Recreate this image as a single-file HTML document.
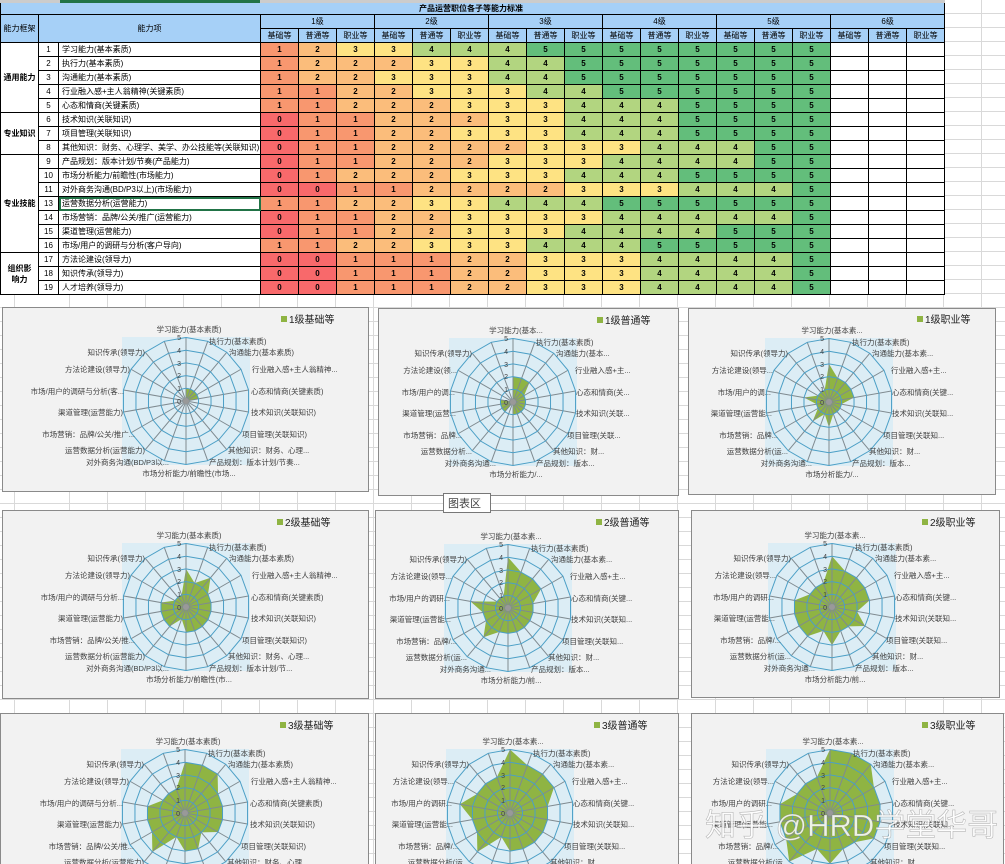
<!DOCTYPE html>
<html><head><meta charset="utf-8"><style>
body{margin:0;width:1005px;height:864px;overflow:hidden;position:relative;background:#fff;
font-family:"Liberation Sans","Noto Sans CJK SC",sans-serif;}
.bg{position:absolute;left:0;top:0;width:1005px;height:864px;
background-image:repeating-linear-gradient(to bottom,transparent 0,transparent 13px,#d9d9d9 13px,#d9d9d9 14px),repeating-linear-gradient(to right,transparent 0,transparent 37px,#d9d9d9 37px,#d9d9d9 38px);
background-position:0 0,32px 0;}
table{position:absolute;left:0;top:0;border-collapse:collapse;table-layout:fixed;width:943px;font-size:8px;}
td{border:1px solid #000;height:14px;padding:0;text-align:center;overflow:hidden;white-space:nowrap;line-height:12px;box-sizing:border-box;}
td.l{text-align:left;padding-left:3px;background:#fff}
td.n{background:#fff}
td.g{background:#fff;font-weight:bold;white-space:normal;line-height:11px}
.h td{background:#a6d0f7;}
.v0{background:#f8696b}.v1{background:#f8976f}.v2{background:#fbbd7b}.v3{background:#fee383}.v4{background:#b2d580}.v5{background:#63be7b}
tr.d td.v0,tr.d td.v1,tr.d td.v2,tr.d td.v3,tr.d td.v4,tr.d td.v5{font-weight:bold}
td.e{background:#fff}
svg{position:absolute;left:0;top:0}
svg text{font-family:"Liberation Sans","Noto Sans CJK SC",sans-serif;font-size:7.5px;fill:#404040}
text.e{text-anchor:end} text.m{text-anchor:middle}
text.t{font-size:7px;fill:#404040;text-anchor:end}
text.lg{font-size:10px;fill:#222}
.d{fill:#8fb443}
</style></head><body>
<div class="bg"></div>
<table>
<colgroup><col style="width:38px"><col style="width:20px"><col style="width:202px">
<col span="18" style="width:38px"></colgroup>
<tr class="h"><td colspan="21" style="height:13px;border-top:3px solid #ccc;font-weight:bold;text-align:left;padding-left:418px;line-height:9px">产品运营职位各子等能力标准</td></tr>
<tr class="h"><td rowspan="2">能力框架</td><td colspan="2" rowspan="2">能力项</td><td colspan="3">1级</td><td colspan="3">2级</td><td colspan="3">3级</td><td colspan="3">4级</td><td colspan="3">5级</td><td colspan="3">6级</td></tr>
<tr class="h"><td>基础等</td><td>普通等</td><td>职业等</td><td>基础等</td><td>普通等</td><td>职业等</td><td>基础等</td><td>普通等</td><td>职业等</td><td>基础等</td><td>普通等</td><td>职业等</td><td>基础等</td><td>普通等</td><td>职业等</td><td>基础等</td><td>普通等</td><td>职业等</td></tr>
<tr class="d"><td rowspan="5" class="g">通用能力</td><td class="n">1</td><td class="l">学习能力(基本素质)</td><td class="v1">1</td><td class="v2">2</td><td class="v3">3</td><td class="v3">3</td><td class="v4">4</td><td class="v4">4</td><td class="v4">4</td><td class="v5">5</td><td class="v5">5</td><td class="v5">5</td><td class="v5">5</td><td class="v5">5</td><td class="v5">5</td><td class="v5">5</td><td class="v5">5</td><td class="e"></td><td class="e"></td><td class="e"></td></tr>
<tr class="d"><td class="n">2</td><td class="l">执行力(基本素质)</td><td class="v1">1</td><td class="v2">2</td><td class="v2">2</td><td class="v2">2</td><td class="v3">3</td><td class="v3">3</td><td class="v4">4</td><td class="v4">4</td><td class="v5">5</td><td class="v5">5</td><td class="v5">5</td><td class="v5">5</td><td class="v5">5</td><td class="v5">5</td><td class="v5">5</td><td class="e"></td><td class="e"></td><td class="e"></td></tr>
<tr class="d"><td class="n">3</td><td class="l">沟通能力(基本素质)</td><td class="v1">1</td><td class="v2">2</td><td class="v2">2</td><td class="v3">3</td><td class="v3">3</td><td class="v3">3</td><td class="v4">4</td><td class="v4">4</td><td class="v5">5</td><td class="v5">5</td><td class="v5">5</td><td class="v5">5</td><td class="v5">5</td><td class="v5">5</td><td class="v5">5</td><td class="e"></td><td class="e"></td><td class="e"></td></tr>
<tr class="d"><td class="n">4</td><td class="l">行业融入感+主人翁精神(关键素质)</td><td class="v1">1</td><td class="v1">1</td><td class="v2">2</td><td class="v2">2</td><td class="v3">3</td><td class="v3">3</td><td class="v3">3</td><td class="v4">4</td><td class="v4">4</td><td class="v5">5</td><td class="v5">5</td><td class="v5">5</td><td class="v5">5</td><td class="v5">5</td><td class="v5">5</td><td class="e"></td><td class="e"></td><td class="e"></td></tr>
<tr class="d"><td class="n">5</td><td class="l">心态和情商(关键素质)</td><td class="v1">1</td><td class="v1">1</td><td class="v2">2</td><td class="v2">2</td><td class="v2">2</td><td class="v3">3</td><td class="v3">3</td><td class="v3">3</td><td class="v4">4</td><td class="v4">4</td><td class="v4">4</td><td class="v5">5</td><td class="v5">5</td><td class="v5">5</td><td class="v5">5</td><td class="e"></td><td class="e"></td><td class="e"></td></tr>
<tr class="d"><td rowspan="3" class="g">专业知识</td><td class="n">6</td><td class="l">技术知识(关联知识)</td><td class="v0">0</td><td class="v1">1</td><td class="v1">1</td><td class="v2">2</td><td class="v2">2</td><td class="v2">2</td><td class="v3">3</td><td class="v3">3</td><td class="v4">4</td><td class="v4">4</td><td class="v4">4</td><td class="v5">5</td><td class="v5">5</td><td class="v5">5</td><td class="v5">5</td><td class="e"></td><td class="e"></td><td class="e"></td></tr>
<tr class="d"><td class="n">7</td><td class="l">项目管理(关联知识)</td><td class="v0">0</td><td class="v1">1</td><td class="v1">1</td><td class="v2">2</td><td class="v2">2</td><td class="v3">3</td><td class="v3">3</td><td class="v3">3</td><td class="v4">4</td><td class="v4">4</td><td class="v4">4</td><td class="v5">5</td><td class="v5">5</td><td class="v5">5</td><td class="v5">5</td><td class="e"></td><td class="e"></td><td class="e"></td></tr>
<tr class="d"><td class="n">8</td><td class="l">其他知识：财务、心理学、美学、办公技能等(关联知识)</td><td class="v0">0</td><td class="v1">1</td><td class="v1">1</td><td class="v2">2</td><td class="v2">2</td><td class="v2">2</td><td class="v2">2</td><td class="v3">3</td><td class="v3">3</td><td class="v3">3</td><td class="v4">4</td><td class="v4">4</td><td class="v4">4</td><td class="v5">5</td><td class="v5">5</td><td class="e"></td><td class="e"></td><td class="e"></td></tr>
<tr class="d"><td rowspan="7" class="g">专业技能</td><td class="n">9</td><td class="l">产品规划：版本计划/节奏(产品能力)</td><td class="v0">0</td><td class="v1">1</td><td class="v1">1</td><td class="v2">2</td><td class="v2">2</td><td class="v2">2</td><td class="v3">3</td><td class="v3">3</td><td class="v3">3</td><td class="v4">4</td><td class="v4">4</td><td class="v4">4</td><td class="v4">4</td><td class="v5">5</td><td class="v5">5</td><td class="e"></td><td class="e"></td><td class="e"></td></tr>
<tr class="d"><td class="n">10</td><td class="l">市场分析能力/前瞻性(市场能力)</td><td class="v0">0</td><td class="v1">1</td><td class="v2">2</td><td class="v2">2</td><td class="v2">2</td><td class="v3">3</td><td class="v3">3</td><td class="v3">3</td><td class="v4">4</td><td class="v4">4</td><td class="v4">4</td><td class="v5">5</td><td class="v5">5</td><td class="v5">5</td><td class="v5">5</td><td class="e"></td><td class="e"></td><td class="e"></td></tr>
<tr class="d"><td class="n">11</td><td class="l">对外商务沟通(BD/P3以上)(市场能力)</td><td class="v0">0</td><td class="v0">0</td><td class="v1">1</td><td class="v1">1</td><td class="v2">2</td><td class="v2">2</td><td class="v2">2</td><td class="v2">2</td><td class="v3">3</td><td class="v3">3</td><td class="v3">3</td><td class="v4">4</td><td class="v4">4</td><td class="v4">4</td><td class="v5">5</td><td class="e"></td><td class="e"></td><td class="e"></td></tr>
<tr class="d"><td class="n">13</td><td class="l" style="outline:2px solid #217346;outline-offset:-2px">运营数据分析(运营能力)</td><td class="v1">1</td><td class="v1">1</td><td class="v2">2</td><td class="v2">2</td><td class="v3">3</td><td class="v3">3</td><td class="v4">4</td><td class="v4">4</td><td class="v4">4</td><td class="v5">5</td><td class="v5">5</td><td class="v5">5</td><td class="v5">5</td><td class="v5">5</td><td class="v5">5</td><td class="e"></td><td class="e"></td><td class="e"></td></tr>
<tr class="d"><td class="n">14</td><td class="l">市场营销：品牌/公关/推广(运营能力)</td><td class="v0">0</td><td class="v1">1</td><td class="v1">1</td><td class="v2">2</td><td class="v2">2</td><td class="v3">3</td><td class="v3">3</td><td class="v3">3</td><td class="v3">3</td><td class="v4">4</td><td class="v4">4</td><td class="v4">4</td><td class="v4">4</td><td class="v4">4</td><td class="v5">5</td><td class="e"></td><td class="e"></td><td class="e"></td></tr>
<tr class="d"><td class="n">15</td><td class="l">渠道管理(运营能力)</td><td class="v0">0</td><td class="v1">1</td><td class="v1">1</td><td class="v2">2</td><td class="v2">2</td><td class="v3">3</td><td class="v3">3</td><td class="v3">3</td><td class="v4">4</td><td class="v4">4</td><td class="v4">4</td><td class="v4">4</td><td class="v5">5</td><td class="v5">5</td><td class="v5">5</td><td class="e"></td><td class="e"></td><td class="e"></td></tr>
<tr class="d"><td class="n">16</td><td class="l">市场/用户的调研与分析(客户导向)</td><td class="v1">1</td><td class="v1">1</td><td class="v2">2</td><td class="v2">2</td><td class="v3">3</td><td class="v3">3</td><td class="v3">3</td><td class="v4">4</td><td class="v4">4</td><td class="v4">4</td><td class="v5">5</td><td class="v5">5</td><td class="v5">5</td><td class="v5">5</td><td class="v5">5</td><td class="e"></td><td class="e"></td><td class="e"></td></tr>
<tr class="d"><td rowspan="3" class="g">组织影<br>响力</td><td class="n">17</td><td class="l">方法论建设(领导力)</td><td class="v0">0</td><td class="v0">0</td><td class="v1">1</td><td class="v1">1</td><td class="v1">1</td><td class="v2">2</td><td class="v2">2</td><td class="v3">3</td><td class="v3">3</td><td class="v3">3</td><td class="v4">4</td><td class="v4">4</td><td class="v4">4</td><td class="v4">4</td><td class="v5">5</td><td class="e"></td><td class="e"></td><td class="e"></td></tr>
<tr class="d"><td class="n">18</td><td class="l">知识传承(领导力)</td><td class="v0">0</td><td class="v0">0</td><td class="v1">1</td><td class="v1">1</td><td class="v1">1</td><td class="v2">2</td><td class="v2">2</td><td class="v3">3</td><td class="v3">3</td><td class="v3">3</td><td class="v4">4</td><td class="v4">4</td><td class="v4">4</td><td class="v4">4</td><td class="v5">5</td><td class="e"></td><td class="e"></td><td class="e"></td></tr>
<tr class="d"><td class="n">19</td><td class="l">人才培养(领导力)</td><td class="v0">0</td><td class="v0">0</td><td class="v1">1</td><td class="v1">1</td><td class="v1">1</td><td class="v2">2</td><td class="v2">2</td><td class="v3">3</td><td class="v3">3</td><td class="v3">3</td><td class="v4">4</td><td class="v4">4</td><td class="v4">4</td><td class="v4">4</td><td class="v5">5</td><td class="e"></td><td class="e"></td><td class="e"></td></tr>
</table>
<div style="position:absolute;left:60px;top:0;width:200px;height:3px;background:#217346"></div>

<svg width="1005" height="864" viewBox="0 0 1005 864">
<defs>
<polygon id="ring" points="0,-1 .342,-.94 .643,-.766 .866,-.5 .985,-.174 .985,.174 .866,.5 .643,.766 .342,.94 0,1 -.342,.94 -.643,.766 -.866,.5 -.985,.174 -.985,-.174 -.866,-.5 -.643,-.766 -.342,-.94" fill="none" stroke="#4b9fc6" stroke-width="1" vector-effect="non-scaling-stroke"/>
<g id="bgw"><rect x="-64" y="-64" width="128" height="128" fill="#dcedf5"/></g>
<g id="grid"><g transform="scale(12.7)">
<path d="M0 0L0 -5M0 0L1.71 -4.7M0 0L3.21 -3.83M0 0L4.33 -2.5M0 0L4.92 -.87M0 0L4.92 .87M0 0L4.33 2.5M0 0L3.21 3.83M0 0L1.71 4.7M0 0L0 5M0 0L-1.71 4.7M0 0L-3.21 3.83M0 0L-4.33 2.5M0 0L-4.92 .87M0 0L-4.92 -.87M0 0L-4.33 -2.5M0 0L-3.21 -3.83M0 0L-1.71 -4.7" stroke="#7f8a90" stroke-width="1" vector-effect="non-scaling-stroke" fill="none"/>
<use href="#ring" transform="scale(1)"/><use href="#ring" transform="scale(2)"/><use href="#ring" transform="scale(3)"/><use href="#ring" transform="scale(4)"/><use href="#ring" transform="scale(5)"/>
</g><circle r="3" fill="#999"/></g>
</defs>

<g fill="#f2f2f2" stroke="#8a8a8a">
<rect x="2.5" y="307.5" width="366" height="184"/>
<rect x="378.5" y="308.5" width="300" height="187"/>
<rect x="688.5" y="308.5" width="307" height="186"/>
<rect x="2.5" y="510.5" width="366" height="188"/>
<rect x="375.5" y="510.5" width="303" height="188"/>
<rect x="691.5" y="510.5" width="308" height="187"/>
<rect x="0.5" y="713.5" width="368" height="160"/>
<rect x="375.5" y="713.5" width="303" height="160"/>
<rect x="691.5" y="713.5" width="312" height="160"/>
</g>

<g transform="translate(186,401)"><use href="#bgw"/>
<polygon class="d" transform="scale(12.7)" points="0,-1 .34,-.94 .64,-.77 .87,-.5 .99,-.17 0,0 0,0 0,0 0,0 0,0 0,0 -.64,.77 0,0 0,0 -.99,-.17 0,0 0,0 0,0"/>
<use href="#grid"/>
<text class="t" x="-5" y="-61">5</text><text class="t" x="-5" y="-48">4</text><text class="t" x="-5" y="-35">3</text><text class="t" x="-5" y="-23">2</text><text class="t" x="-5" y="-10">1</text><text class="t" x="-5" y="3">0</text>
<text class="m" x="3" y="-69">学习能力(基本素质)</text><text x="23" y="-57">执行力(基本素质)</text><text x="43" y="-46">沟通能力(基本素质)</text><text x="66" y="-29">行业融入感+主人翁精神...</text><text x="65" y="-7">心态和情商(关键素质)</text><text x="65" y="14">技术知识(关联知识)</text><text x="56" y="36">项目管理(关联知识)</text><text x="42" y="52">其他知识：财务、心理...</text><text x="23" y="64">产品规划：版本计划/节奏...</text><text class="m" x="3" y="75">市场分析能力/前瞻性(市场...</text><text class="e" x="-17" y="64">对外商务沟通(BD/P3以...</text><text class="e" x="-41" y="52">运营数据分析(运营能力)</text><text class="e" x="-51" y="36">市场营销：品牌/公关/推广...</text><text class="e" x="-63" y="14">渠道管理(运营能力)</text><text class="e" x="-62" y="-7">市场/用户的调研与分析(客...</text><text class="e" x="-56" y="-29">方法论建设(领导力)</text><text class="e" x="-41" y="-46">知识传承(领导力)</text>
</g>
<rect x="281" y="316" width="6" height="6" fill="#8fb443"/><text class="lg" x="289" y="323">1级基础等</text>

<g transform="translate(513,402)"><use href="#bgw"/>
<polygon class="d" transform="scale(12.7)" points="0,-2 .68,-1.88 1.29,-1.53 .87,-.5 .99,-.17 .99,.17 .87,.5 .64,.77 .34,.94 0,1 0,0 -.64,.77 -.87,.5 -.99,.17 -.99,-.17 0,0 0,0 0,0"/>
<use href="#grid"/>
<text class="t" x="-5" y="-61">5</text><text class="t" x="-5" y="-48">4</text><text class="t" x="-5" y="-35">3</text><text class="t" x="-5" y="-23">2</text><text class="t" x="-5" y="-10">1</text><text class="t" x="-5" y="3">0</text>
<text class="m" x="3" y="-69">学习能力(基本...</text><text x="23" y="-57">执行力(基本素质)</text><text x="43" y="-46">沟通能力(基本...</text><text x="62" y="-29">行业融入感+主...</text><text x="63" y="-7">心态和情商(关...</text><text x="63" y="14">技术知识(关联...</text><text x="54" y="36">项目管理(关联...</text><text x="40" y="52">其他知识：财...</text><text x="23" y="64">产品规划：版本...</text><text class="m" x="3" y="75">市场分析能力/...</text><text class="e" x="-17" y="64">对外商务沟通...</text><text class="e" x="-41" y="52">运营数据分析...</text><text class="e" x="-51" y="36">市场营销：品牌...</text><text class="e" x="-57" y="14">渠道管理(运营...</text><text class="e" x="-58" y="-7">市场/用户的调...</text><text class="e" x="-56" y="-29">方法论建设(领...</text><text class="e" x="-41" y="-46">知识传承(领导力)</text>
</g>
<rect x="597" y="317" width="6" height="6" fill="#8fb443"/><text class="lg" x="605" y="324">1级普通等</text>

<g transform="translate(829,402)"><use href="#bgw"/>
<polygon class="d" transform="scale(12.7)" points="0,-3 .68,-1.88 1.29,-1.53 1.73,-1 1.97,-.35 .99,.17 .87,.5 .64,.77 .34,.94 0,2 -.34,.94 -1.29,1.53 -.87,.5 -.99,.17 -1.97,-.35 -.87,-.5 -.64,-.77 -.34,-.94"/>
<use href="#grid"/>
<text class="t" x="-5" y="-61">5</text><text class="t" x="-5" y="-48">4</text><text class="t" x="-5" y="-35">3</text><text class="t" x="-5" y="-23">2</text><text class="t" x="-5" y="-10">1</text><text class="t" x="-5" y="3">0</text>
<text class="m" x="3" y="-69">学习能力(基本素...</text><text x="23" y="-57">执行力(基本素质)</text><text x="43" y="-46">沟通能力(基本素...</text><text x="62" y="-29">行业融入感+主...</text><text x="63" y="-7">心态和情商(关键...</text><text x="63" y="14">技术知识(关联知...</text><text x="54" y="36">项目管理(关联知...</text><text x="40" y="52">其他知识：财...</text><text x="23" y="64">产品规划：版本...</text><text class="m" x="3" y="75">市场分析能力/...</text><text class="e" x="-17" y="64">对外商务沟通...</text><text class="e" x="-41" y="52">运营数据分析(运...</text><text class="e" x="-51" y="36">市场营销：品牌...</text><text class="e" x="-57" y="14">渠道管理(运营能...</text><text class="e" x="-58" y="-7">市场/用户的调...</text><text class="e" x="-56" y="-29">方法论建设(领导...</text><text class="e" x="-41" y="-46">知识传承(领导力)</text>
</g>
<rect x="917" y="316" width="6" height="6" fill="#8fb443"/><text class="lg" x="925" y="323">1级职业等</text>

<g transform="translate(186,607)"><use href="#bgw"/>
<polygon class="d" transform="scale(12.7)" points="0,-3 .68,-1.88 1.93,-2.3 1.73,-1 1.97,-.35 1.97,.35 1.73,1 1.29,1.53 .68,1.88 0,2 -.34,.94 -1.29,1.53 -1.73,1 -1.97,.35 -1.97,-.35 -.87,-.5 -.64,-.77 -.34,-.94"/>
<use href="#grid"/>
<text class="t" x="-5" y="-61">5</text><text class="t" x="-5" y="-48">4</text><text class="t" x="-5" y="-35">3</text><text class="t" x="-5" y="-23">2</text><text class="t" x="-5" y="-10">1</text><text class="t" x="-5" y="3">0</text>
<text class="m" x="3" y="-69">学习能力(基本素质)</text><text x="23" y="-57">执行力(基本素质)</text><text x="43" y="-46">沟通能力(基本素质)</text><text x="66" y="-29">行业融入感+主人翁精神...</text><text x="65" y="-7">心态和情商(关键素质)</text><text x="65" y="14">技术知识(关联知识)</text><text x="56" y="36">项目管理(关联知识)</text><text x="42" y="52">其他知识：财务、心理...</text><text x="23" y="64">产品规划：版本计划/节...</text><text class="m" x="3" y="75">市场分析能力/前瞻性(市...</text><text class="e" x="-17" y="64">对外商务沟通(BD/P3以...</text><text class="e" x="-41" y="52">运营数据分析(运营能力)</text><text class="e" x="-51" y="36">市场营销：品牌/公关/推...</text><text class="e" x="-63" y="14">渠道管理(运营能力)</text><text class="e" x="-62" y="-7">市场/用户的调研与分析...</text><text class="e" x="-56" y="-29">方法论建设(领导力)</text><text class="e" x="-41" y="-46">知识传承(领导力)</text>
</g>
<rect x="277" y="519" width="6" height="6" fill="#8fb443"/><text class="lg" x="285" y="526">2级基础等</text>

<g transform="translate(508,608)"><use href="#bgw"/>
<polygon class="d" transform="scale(12.7)" points="0,-4 1.03,-2.82 1.93,-2.3 2.6,-1.5 1.97,-.35 1.97,.35 1.73,1 1.29,1.53 .68,1.88 0,2 -.68,1.88 -1.93,2.3 -1.73,1 -1.97,.35 -2.96,-.52 -.87,-.5 -.64,-.77 -.34,-.94"/>
<use href="#grid"/>
<text class="t" x="-5" y="-61">5</text><text class="t" x="-5" y="-48">4</text><text class="t" x="-5" y="-35">3</text><text class="t" x="-5" y="-23">2</text><text class="t" x="-5" y="-10">1</text><text class="t" x="-5" y="3">0</text>
<text class="m" x="3" y="-69">学习能力(基本素...</text><text x="23" y="-57">执行力(基本素质)</text><text x="43" y="-46">沟通能力(基本素...</text><text x="62" y="-29">行业融入感+主...</text><text x="63" y="-7">心态和情商(关键...</text><text x="63" y="14">技术知识(关联知...</text><text x="54" y="36">项目管理(关联知...</text><text x="40" y="52">其他知识：财...</text><text x="23" y="64">产品规划：版本...</text><text class="m" x="3" y="75">市场分析能力/前...</text><text class="e" x="-17" y="64">对外商务沟通...</text><text class="e" x="-41" y="52">运营数据分析(运...</text><text class="e" x="-51" y="36">市场营销：品牌/...</text><text class="e" x="-57" y="14">渠道管理(运营能...</text><text class="e" x="-58" y="-7">市场/用户的调研...</text><text class="e" x="-56" y="-29">方法论建设(领导...</text><text class="e" x="-41" y="-46">知识传承(领导力)</text>
</g>
<rect x="596" y="519" width="6" height="6" fill="#8fb443"/><text class="lg" x="604" y="526">2级普通等</text>

<g transform="translate(832,607)"><use href="#bgw"/>
<polygon class="d" transform="scale(12.7)" points="0,-4 1.03,-2.82 1.93,-2.3 2.6,-1.5 2.96,-.52 1.97,.35 2.6,1.5 1.29,1.53 .68,1.88 0,3 -.68,1.88 -1.93,2.3 -2.6,1.5 -2.96,.52 -2.96,-.52 -1.73,-1 -1.29,-1.53 -.68,-1.88"/>
<use href="#grid"/>
<text class="t" x="-5" y="-61">5</text><text class="t" x="-5" y="-48">4</text><text class="t" x="-5" y="-35">3</text><text class="t" x="-5" y="-23">2</text><text class="t" x="-5" y="-10">1</text><text class="t" x="-5" y="3">0</text>
<text class="m" x="3" y="-69">学习能力(基本素...</text><text x="23" y="-57">执行力(基本素质)</text><text x="43" y="-46">沟通能力(基本素...</text><text x="62" y="-29">行业融入感+主...</text><text x="63" y="-7">心态和情商(关键...</text><text x="63" y="14">技术知识(关联知...</text><text x="54" y="36">项目管理(关联知...</text><text x="40" y="52">其他知识：财...</text><text x="23" y="64">产品规划：版本...</text><text class="m" x="3" y="75">市场分析能力/前...</text><text class="e" x="-17" y="64">对外商务沟通...</text><text class="e" x="-41" y="52">运营数据分析(运...</text><text class="e" x="-51" y="36">市场营销：品牌/...</text><text class="e" x="-57" y="14">渠道管理(运营能...</text><text class="e" x="-58" y="-7">市场/用户的调研...</text><text class="e" x="-56" y="-29">方法论建设(领导...</text><text class="e" x="-41" y="-46">知识传承(领导力)</text>
</g>
<rect x="922" y="519" width="6" height="6" fill="#8fb443"/><text class="lg" x="930" y="526">2级职业等</text>

<g transform="translate(185,813)"><use href="#bgw"/>
<polygon class="d" transform="scale(12.7)" points="0,-4 1.37,-3.76 2.57,-3.06 2.6,-1.5 2.96,-.52 2.96,.52 2.6,1.5 1.29,1.53 1.03,2.82 0,3 -.68,1.88 -2.57,3.06 -2.6,1.5 -2.96,.52 -2.96,-.52 -1.73,-1 -1.29,-1.53 -.68,-1.88"/>
<use href="#grid"/>
<text class="t" x="-5" y="-61">5</text><text class="t" x="-5" y="-48">4</text><text class="t" x="-5" y="-35">3</text><text class="t" x="-5" y="-23">2</text><text class="t" x="-5" y="-10">1</text><text class="t" x="-5" y="3">0</text>
<text class="m" x="3" y="-69">学习能力(基本素质)</text><text x="23" y="-57">执行力(基本素质)</text><text x="43" y="-46">沟通能力(基本素质)</text><text x="66" y="-29">行业融入感+主人翁精神...</text><text x="65" y="-7">心态和情商(关键素质)</text><text x="65" y="14">技术知识(关联知识)</text><text x="56" y="36">项目管理(关联知识)</text><text x="42" y="52">其他知识：财务、心理...</text><text class="e" x="-41" y="52">运营数据分析(运营能力)</text><text class="e" x="-51" y="36">市场营销：品牌/公关/推...</text><text class="e" x="-63" y="14">渠道管理(运营能力)</text><text class="e" x="-62" y="-7">市场/用户的调研与分析...</text><text class="e" x="-56" y="-29">方法论建设(领导力)</text><text class="e" x="-41" y="-46">知识传承(领导力)</text>
</g>
<rect x="280" y="722" width="6" height="6" fill="#8fb443"/><text class="lg" x="288" y="729">3级基础等</text>

<g transform="translate(510,813)"><use href="#bgw"/>
<polygon class="d" transform="scale(12.7)" points="0,-5 1.37,-3.76 2.57,-3.06 3.46,-2 2.96,-.52 2.96,.52 2.6,1.5 1.93,2.3 1.03,2.82 0,3 -.68,1.88 -2.57,3.06 -2.6,1.5 -2.96,.52 -3.94,-.7 -2.6,-1.5 -1.93,-2.3 -1.03,-2.82"/>
<use href="#grid"/>
<text class="t" x="-5" y="-61">5</text><text class="t" x="-5" y="-48">4</text><text class="t" x="-5" y="-35">3</text><text class="t" x="-5" y="-23">2</text><text class="t" x="-5" y="-10">1</text><text class="t" x="-5" y="3">0</text>
<text class="m" x="3" y="-69">学习能力(基本素...</text><text x="23" y="-57">执行力(基本素质)</text><text x="43" y="-46">沟通能力(基本素...</text><text x="62" y="-29">行业融入感+主...</text><text x="63" y="-7">心态和情商(关键...</text><text x="63" y="14">技术知识(关联知...</text><text x="54" y="36">项目管理(关联知...</text><text x="40" y="52">其他知识：财...</text><text class="e" x="-41" y="52">运营数据分析(运...</text><text class="e" x="-51" y="36">市场营销：品牌/...</text><text class="e" x="-57" y="14">渠道管理(运营能...</text><text class="e" x="-58" y="-7">市场/用户的调研...</text><text class="e" x="-56" y="-29">方法论建设(领导...</text><text class="e" x="-41" y="-46">知识传承(领导力)</text>
</g>
<rect x="594" y="722" width="6" height="6" fill="#8fb443"/><text class="lg" x="602" y="729">3级普通等</text>

<g transform="translate(830,813)"><use href="#bgw"/>
<polygon class="d" transform="scale(12.7)" points="0,-5 1.71,-4.7 3.21,-3.83 3.46,-2 3.94,-.7 3.94,.7 3.46,2 1.93,2.3 1.03,2.82 0,4 -1.03,2.82 -3.21,3.83 -3.46,2 -3.94,.7 -3.94,-.7 -2.6,-1.5 -1.93,-2.3 -1.03,-2.82"/>
<use href="#grid"/>
<text class="t" x="-5" y="-61">5</text><text class="t" x="-5" y="-48">4</text><text class="t" x="-5" y="-35">3</text><text class="t" x="-5" y="-23">2</text><text class="t" x="-5" y="-10">1</text><text class="t" x="-5" y="3">0</text>
<text class="m" x="3" y="-69">学习能力(基本素...</text><text x="23" y="-57">执行力(基本素质)</text><text x="43" y="-46">沟通能力(基本素...</text><text x="62" y="-29">行业融入感+主...</text><text x="63" y="-7">心态和情商(关键...</text><text x="63" y="14">技术知识(关联知...</text><text x="54" y="36">项目管理(关联知...</text><text x="40" y="52">其他知识：财...</text><text class="e" x="-41" y="52">运营数据分析(运...</text><text class="e" x="-51" y="36">市场营销：品牌/...</text><text class="e" x="-57" y="14">渠道管理(运营能...</text><text class="e" x="-58" y="-7">市场/用户的调研...</text><text class="e" x="-56" y="-29">方法论建设(领导...</text><text class="e" x="-41" y="-46">知识传承(领导力)</text>
</g>
<rect x="922" y="722" width="6" height="6" fill="#8fb443"/><text class="lg" x="930" y="729">3级职业等</text>

<rect x="443.5" y="493.5" width="47" height="19" fill="#fff" stroke="#777"/>
<text x="448" y="507" style="font-size:11px;fill:#444">图表区</text>
<text x="705" y="836" style="font-size:31px;fill:rgba(255,255,255,0.85);stroke:rgba(120,120,120,0.5);stroke-width:0.6">知乎 @HRD学堂华哥</text>
</svg>
</body></html>
